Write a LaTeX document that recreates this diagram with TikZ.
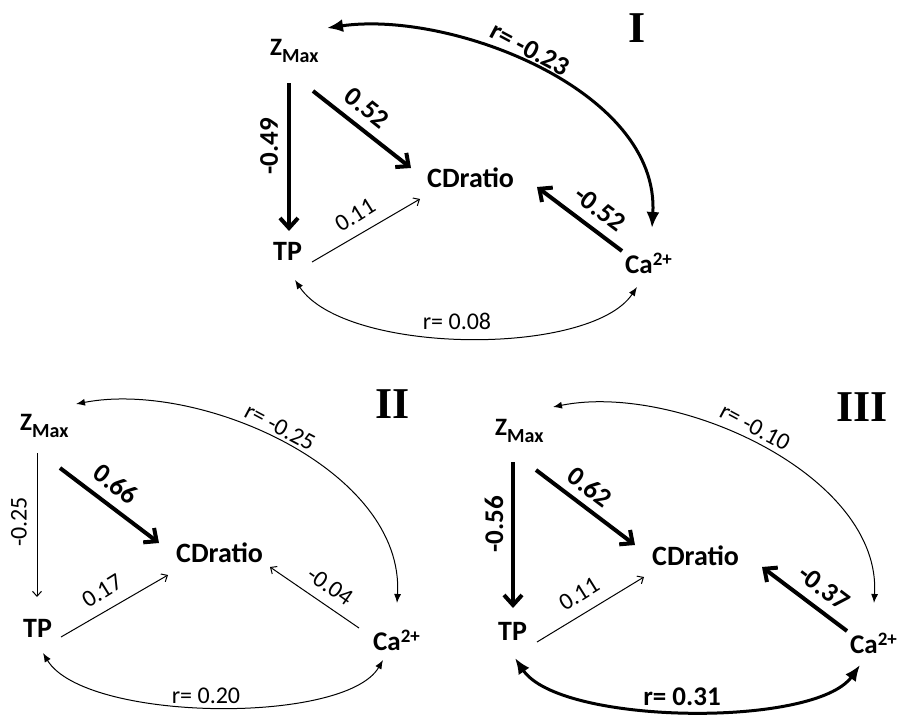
\documentclass[tikz,border=0pt]{standalone}
\usepackage{fontspec}
\setmainfont{Carlito}
\newfontfamily\romanfont{Liberation Serif}
\usetikzlibrary{arrows.meta,calc}
\newcommand{\setfs}[1]{\fontsize{#1}{#1}\selectfont}
\newcommand{\zmax}{\setfs{25}Z\raisebox{-7pt}{\setfs{20}Max}}
\newcommand{\capp}{\setfs{27}Ca\raisebox{8pt}{\setfs{19}2+}}
\tikzset{
  varnode/.style={inner sep=0pt, anchor=base west, font=\bfseries\setfs{28}},
  lblb/.style={inner sep=0pt, font=\bfseries\setfs{27}},
  lbln/.style={inner sep=0pt, font=\setfs{24}},
  panel/.style={inner sep=0pt, font=\romanfont\bfseries\setfs{44}},
  thickpath/.style={line width=4pt, -{Straight Barb[length=10pt,width=18pt]}},
  thinpath/.style={line width=1pt, -{Straight Barb[length=5pt,width=9pt]}},
  thickcorr/.style={line width=3pt, {Latex[length=16pt,width=13pt]}-{Latex[length=16pt,width=13pt]}},
  thincorr/.style={line width=1pt, {Latex[length=9pt,width=7pt]}-{Latex[length=9pt,width=7pt]}}
}
\begin{document}
\begin{tikzpicture}[x=1pt,y=-1pt]
\useasboundingbox (0,0) rectangle (904,715);

% ---------- Panel I ----------
\node[panel] (pI) at (637,28) {I};
\node[varnode] (zI) at (270,55) {\zmax};
\node[varnode] (tpI) at (273,260) {TP};
\node[varnode] (cdI) at (427,187) {CDratio};
\node[varnode] (caI) at (625,273) {\capp};

\draw[thickpath] ($(zI.base west)+(19,28)$) -- ($(tpI.base west)+(16,-29)$);
\draw[thickpath] ($(zI.base west)+(43,36)$) -- ($(cdI.base west)+(-16,-19)$);
\draw[thinpath] ($(tpI.base west)+(39,2)$) -- ($(cdI.base west)+(-7,12)$);
\draw[thickpath] ($(caI.base west)+(-3,-22)$) -- ($(cdI.base west)+(110,0)$);
\draw[thickcorr] ($(zI.base west)+(57,-27)$) .. controls +(123,-18) and +(8,-138) .. ($(caI.base west)+(27,-45)$);
\draw[thincorr] ($(tpI.base west)+(22,20)$) .. controls +(50,75) and +(-47,70) .. ($(caI.base west)+(12,14)$);

\node[lblb, rotate=90] (lI1) at (269,146) {-0.49};
\node[lblb, rotate=-38.5] (lI2) at (367,108) {0.52};
\node[lbln, rotate=32] (lI3) at (355,215) {0.11};
\node[lblb, rotate=-37] (lI4) at (600,209) {-0.52};
\node[lblb, rotate=-28] (lI5) at (530,49) {r= -0.23};
\node[lbln] (lI6) at (457,321) {r= 0.08};

% ---------- Panel II ----------
\node[panel] (pII) at (393,404) {II};
\node[varnode] (zII) at (20,430) {\zmax};
\node[varnode] (tpII) at (23,637) {TP};
\node[varnode] (cdII) at (176,562) {CDratio};
\node[varnode] (caII) at (373,650) {\capp};

\draw[thinpath] ($(zII.base west)+(17,23)$) -- ($(tpII.base west)+(14,-40)$);
\draw[thickpath] ($(zII.base west)+(40,38)$) -- ($(cdII.base west)+(-17,-19)$);
\draw[thinpath] ($(tpII.base west)+(38,0)$) -- ($(cdII.base west)+(-8,13)$);
\draw[thinpath] ($(caII.base west)+(-14,-22)$) -- ($(cdII.base west)+(94,5)$);
\draw[thincorr] ($(zII.base west)+(56,-26)$) .. controls +(124,-24) and +(8,-133) .. ($(caII.base west)+(24,-47)$);
\draw[thincorr] ($(tpII.base west)+(20,16)$) .. controls +(42,69) and +(-38,65) .. ($(caII.base west)+(10,10)$);

\node[lbln, rotate=90] (lII1) at (19,522) {-0.25};
\node[lblb, rotate=-37] (lII2) at (116,484) {0.66};
\node[lbln, rotate=32] (lII3) at (102,591) {0.17};
\node[lbln, rotate=-35] (lII4) at (330,586) {-0.04};
\node[lbln, rotate=-28] (lII5) at (280,427) {r= -0.25};
\node[lbln] (lII6) at (206,696) {r= 0.20};

% ---------- Panel III ----------
\node[panel] (pIII) at (862,407) {III};
\node[varnode] (zIII) at (495,435) {\zmax};
\node[varnode] (tpIII) at (498,640) {TP};
\node[varnode] (cdIII) at (652,565) {CDratio};
\node[varnode] (caIII) at (850,653) {\capp};

\draw[thickpath] ($(zIII.base west)+(18,27)$) -- ($(tpIII.base west)+(15,-32)$);
\draw[thickpath] ($(zIII.base west)+(41,35)$) -- ($(cdIII.base west)+(-17,-20)$);
\draw[thinpath] ($(tpIII.base west)+(39,2)$) -- ($(cdIII.base west)+(-8,12)$);
\draw[thickpath] ($(caIII.base west)+(-3,-22)$) -- ($(cdIII.base west)+(110,2)$);
\draw[thincorr] ($(zIII.base west)+(58,-28)$) .. controls +(123,-25) and +(8,-128) .. ($(caIII.base west)+(24,-50)$);
\draw[thickcorr] ($(tpIII.base west)+(17,18)$) .. controls +(45,67) and +(-45,63) .. ($(caIII.base west)+(10,12)$);

\node[lblb, rotate=90] (lIII1) at (494,524) {-0.56};
\node[lblb, rotate=-37] (lIII2) at (590,487) {0.62};
\node[lbln, rotate=32] (lIII3) at (579,594) {0.11};
\node[lblb, rotate=-37] (lIII4) at (824,588) {-0.37};
\node[lbln, rotate=-28] (lIII5) at (755,427) {r= -0.10};
\node[lblb] (lIII6) at (682,697) {r= 0.31};
\end{tikzpicture}
\end{document}
